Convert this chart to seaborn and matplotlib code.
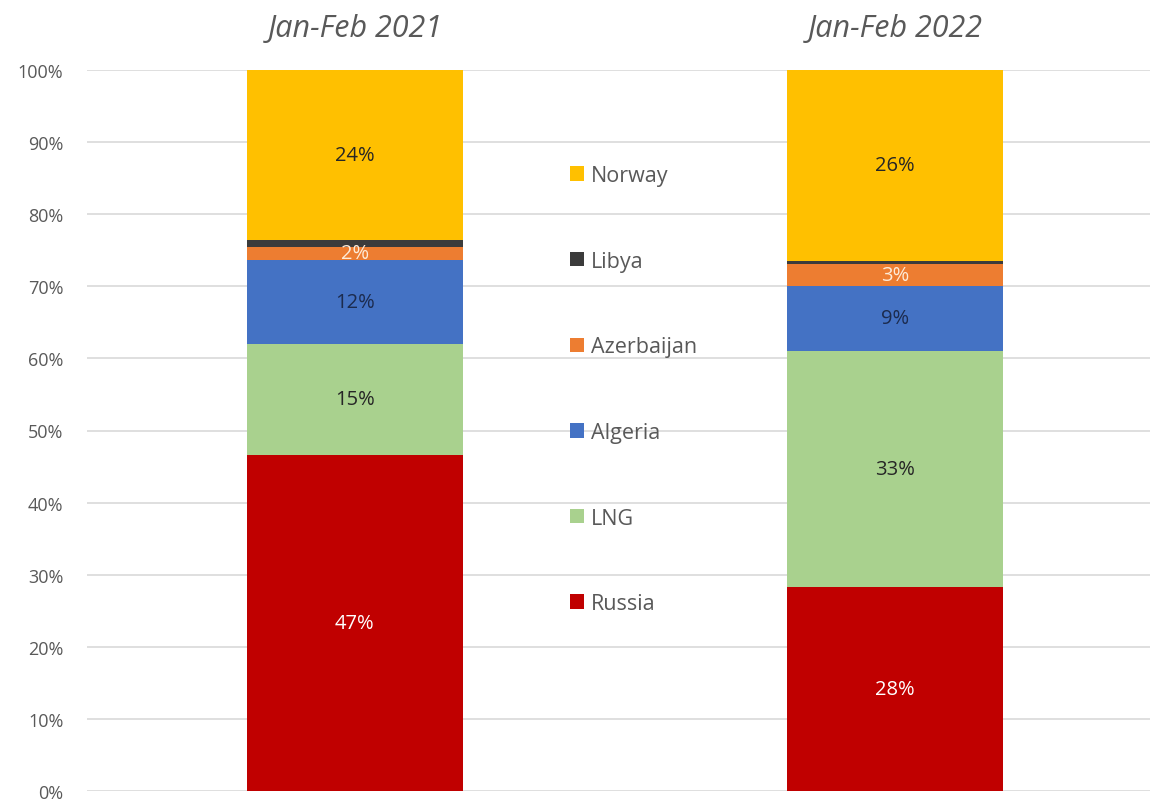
import pandas as pd
import matplotlib.pyplot as plt
import seaborn as sns
from matplotlib.patches import Patch

periods = ['Jan-Feb 2021', 'Jan-Feb 2022']
sources = ['Russia', 'LNG', 'Algeria', 'Azerbaijan', 'Libya', 'Norway']
russia = [46.6, 28.3]
lng = [15.4, 32.7]
algeria = [11.65, 9.1]
azerbaijan = [1.8, 3.0]
libya = [0.95, 0.45]
norway = [23.6, 26.45]
labels = {
    'Russia': ['47%', '28%'],
    'LNG': ['15%', '33%'],
    'Algeria': ['12%', '9%'],
    'Azerbaijan': ['2%', '3%'],
    'Libya': ['', ''],
    'Norway': ['24%', '26%'],
}
colors = {'Russia': '#C00000', 'LNG': '#A9D18E', 'Algeria': '#4472C4',
          'Azerbaijan': '#ED7D31', 'Libya': '#3B3B3B', 'Norway': '#FFC000'}
label_colors = {'Russia': 'white', 'LNG': '#262626', 'Algeria': '#1C2B4E',
                'Azerbaijan': '#FDEBD8', 'Libya': 'white', 'Norway': '#262626'}

df = pd.DataFrame({'period': periods, 'Russia': russia, 'LNG': lng, 'Algeria': algeria,
                   'Azerbaijan': azerbaijan, 'Libya': libya, 'Norway': norway})

sns.set_style('white')
plt.rcParams['font.family'] = ['Open Sans', 'DejaVu Sans']

fig = plt.figure(figsize=(11.53, 8.03), dpi=100)
ax = fig.add_axes([87 / 1153, 11 / 803, 1063 / 1153, 721 / 803])

# cumulative tops, drawn from the top segment down so lower ones overlay
cum = df[sources].cumsum(axis=1)
for src in reversed(sources):
    sns.barplot(x=df['period'], y=cum[src], color=colors[src], width=0.4,
                linewidth=0, saturation=1, ax=ax, zorder=3)

# segment labels
for i in range(len(periods)):
    bottom = 0
    for src in sources:
        h = df[src][i]
        if labels[src][i]:
            ax.text(i, bottom + h / 2, labels[src][i], ha='center', va='center',
                    fontsize=14.5, color=label_colors[src], zorder=5)
        bottom += h

ax.set_xlim(-0.496, 1.472)
ax.set_ylim(0, 100)
ax.set_yticks(range(0, 101, 10))
ax.set_yticklabels([f'{v}%' for v in range(0, 101, 10)], fontsize=13, color='#595959')
ax.tick_params(axis='y', length=0, pad=17)
ax.set_xticks([])
ax.set_xlabel('')
ax.set_ylabel('')
ax.grid(axis='y', color='#D9D9D9', linewidth=1.2, zorder=0)
ax.set_axisbelow(True)
sns.despine(ax=ax, left=True, bottom=True)

for i, p in enumerate(periods):
    ax.text(i, 1.058, p, transform=ax.get_xaxis_transform(), ha='center', va='center',
            fontsize=22, style='italic', color='#595959')

handles = [Patch(facecolor=colors[s], edgecolor='none') for s in reversed(sources)]
leg = ax.legend(handles, list(reversed(sources)), loc='upper left',
                bbox_to_anchor=(0.454, 0.868, 0, 0), bbox_transform=ax.transAxes,
                frameon=False, fontsize=15.5, labelspacing=3.0, borderpad=0, borderaxespad=0,
                handlelength=0.65, handleheight=0.65, handletextpad=0.35, labelcolor='#595959')

fig.savefig('out.png', dpi=100)
